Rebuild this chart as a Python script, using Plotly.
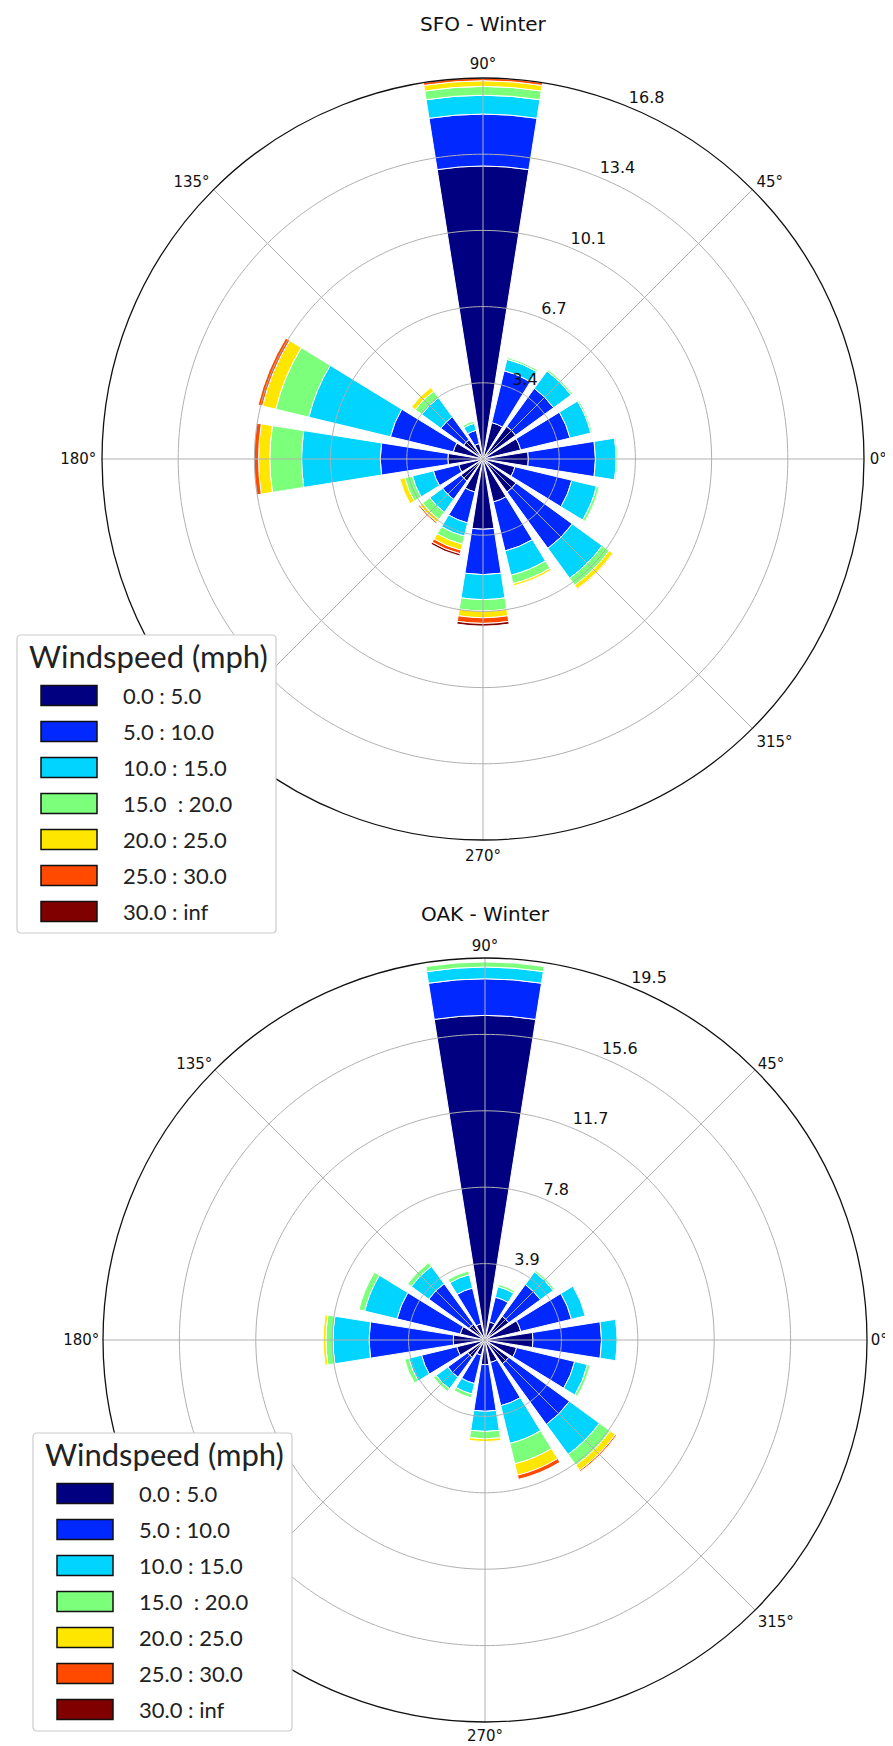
import numpy as np
import plotly.graph_objects as go

W, H = 893, 1746

directions = [0, 22.5, 45, 67.5, 90, 112.5, 135, 157.5, 180, 202.5, 225, 247.5, 270, 292.5, 315, 337.5]
speed_bins = ["0.0 : 5.0", "5.0 : 10.0", "10.0 : 15.0", "15.0\u00a0 : 20.0",
              "20.0 : 25.0", "25.0 : 30.0", "30.0 : inf"]
bin_colors = ["#000080", "#0028ff", "#00d4ff", "#7cff7a", "#ffe600", "#ff4a00", "#800000"]

# SFO - Winter: frequency (%) per direction for each speed bin
sfo_0_5 = [2.0, 1.71, 1.78, 1.65, 12.92, 0.7, 1.05, 1.35, 1.55, 1.1, 1.2, 1.5, 3.1, 1.95, 1.8, 1.45]
sfo_5_10 = [2.96, 2.24, 2.07, 2.35, 2.29, 0.6, 1.25, 2.85, 2.98, 1.15, 1.0, 1.4, 2.0, 2.22, 3.07, 2.58]
sfo_10_15 = [0.91, 0.94, 0.95, 0.52, 0.83, 0.32, 1.04, 3.7, 3.47, 0.95, 0.7, 0.6, 1.1, 1.1, 1.63, 1.12]
sfo_15_20 = [0.06, 0.07, 0.08, 0.08, 0.39, 0.1, 0.36, 1.5, 1.4, 0.35, 0.4, 0.37, 0.5, 0.38, 0.38, 0.12]
sfo_20_25 = [0, 0, 0, 0, 0.25, 0, 0.2, 0.6, 0.5, 0.22, 0.15, 0.27, 0.3, 0.1, 0.2, 0]
sfo_25_30 = [0, 0, 0, 0, 0.12, 0, 0, 0.2, 0.2, 0, 0.07, 0.16, 0.25, 0, 0.03, 0]
sfo_30_inf = [0, 0, 0, 0, 0, 0, 0, 0, 0, 0, 0, 0.1, 0.12, 0, 0, 0]

# OAK - Winter
oak_0_5 = [2.45, 1.88, 1.5, 0.95, 16.57, 0.85, 1.0, 1.3, 1.62, 1.48, 1.1, 0.8, 1.26, 1.18, 1.5, 1.66]
oak_5_10 = [3.5, 2.66, 2.0, 1.3, 1.87, 1.88, 2.55, 3.32, 4.3, 1.85, 1.25, 1.49, 2.38, 2.27, 3.83, 3.05]
oak_10_15 = [0.79, 0.72, 0.8, 0.55, 0.6, 0.7, 1.1, 1.7, 1.84, 0.67, 0.73, 0.55, 1.03, 1.98, 1.89, 0.67]
oak_15_20 = [0, 0, 0.1, 0.12, 0.26, 0.19, 0.23, 0.3, 0.36, 0.22, 0.17, 0.19, 0.38, 1.07, 0.68, 0.14]
oak_20_25 = [0, 0, 0, 0, 0, 0, 0, 0, 0.14, 0, 0, 0, 0.14, 0.6, 0.32, 0]
oak_25_30 = [0, 0, 0, 0, 0, 0, 0, 0, 0, 0, 0, 0, 0, 0.22, 0.08, 0]
oak_30_inf = [0] * 16

sfo_bins = [sfo_0_5, sfo_5_10, sfo_10_15, sfo_15_20, sfo_20_25, sfo_25_30, sfo_30_inf]
oak_bins = [oak_0_5, oak_5_10, oak_10_15, oak_15_20, oak_20_25, oak_25_30, oak_30_inf]

sfo_rmax = 16.8
oak_rmax = 19.5
sfo_ticks = ["3.4", "6.7", "10.1", "13.4", "16.8"]
oak_ticks = ["3.9", "7.8", "11.7", "15.6", "19.5"]
angle_ticks = [0, 45, 90, 135, 180, 270, 315]   # 225 hidden behind legend
radial_label_angle = 67.5

titles = ["SFO - Winter", "OAK - Winter"]

GRID = "#b0b0b0"
fig = go.Figure()


def add_rose(bins, polar_id, rmax, ticktext):
    for vals, name, col in zip(bins, speed_bins, bin_colors):
        fig.add_trace(go.Barpolar(
            r=vals, theta=directions, width=[18] * len(directions), name=name,
            marker=dict(color=col, line=dict(color="white", width=1)),
            subplot=polar_id, showlegend=False))
    # grid drawn above the bars (as in the original)
    tv = [rmax * k / 5 for k in range(1, 6)]
    circ = np.arange(0, 361, 1)
    for v in tv[:-1]:
        fig.add_trace(go.Scatterpolar(r=[v] * len(circ), theta=circ, mode="lines",
                                      line=dict(color=GRID, width=1), hoverinfo="skip",
                                      showlegend=False, subplot=polar_id))
    for a in range(0, 360, 45):
        fig.add_trace(go.Scatterpolar(r=[0, rmax], theta=[a, a], mode="lines",
                                      line=dict(color=GRID, width=1), hoverinfo="skip",
                                      showlegend=False, subplot=polar_id))
    # radial tick labels, placed like matplotlib (bottom-left at the grid point)
    fig.add_trace(go.Scatterpolar(r=tv, theta=[radial_label_angle] * len(tv), mode="text",
                                  text=ticktext, textposition="top right", cliponaxis=False,
                                  textfont=dict(family="DejaVu Sans", size=16, color="#111"),
                                  hoverinfo="skip", showlegend=False, subplot=polar_id))


add_rose(sfo_bins, "polar", sfo_rmax, sfo_ticks)
add_rose(oak_bins, "polar2", oak_rmax, oak_ticks)


def polar_layout(cx, cy, rad, rmax, tlen):
    return dict(
        domain=dict(x=[(cx - rad) / W, (cx + rad) / W],
                    y=[1 - (cy + rad) / H, 1 - (cy - rad) / H]),
        bgcolor="white",
        barmode="stack",
        radialaxis=dict(range=[0, rmax], tickvals=[rmax * k / 5 for k in range(1, 6)],
                        showticklabels=False, angle=radial_label_angle,
                        showline=False, showgrid=False, ticks=""),
        angularaxis=dict(direction="counterclockwise", rotation=0,
                         tickvals=angle_ticks, ticktext=[f"{a}°" for a in angle_ticks],
                         showgrid=False, ticks="outside", ticklen=tlen,
                         tickcolor="rgba(0,0,0,0)", showline=True,
                         linecolor="#111", linewidth=1.3,
                         tickfont=dict(family="DejaVu Sans", size=15, color="#111")),
    )


fig.update_layout(
    width=W, height=H, margin=dict(l=0, r=0, t=0, b=0),
    paper_bgcolor="white", plot_bgcolor="white", showlegend=False,
    polar=polar_layout(475, 451, 381, sfo_rmax, 2),
    polar2=polar_layout(477, 1332, 382, oak_rmax, 0),
)

annotations = []
shapes = []
title_pos = [(475, 16), (477, 906)]
for t, (tx, ty) in zip(titles, title_pos):
    annotations.append(dict(text=t, x=tx / W, y=1 - ty / H, xref="paper", yref="paper",
                            xanchor="center", yanchor="middle", showarrow=False,
                            font=dict(family="DejaVu Sans", size=20, color="#111")))


def P(x, y):
    return f"{x / W:.5f},{1 - y / H:.5f}"


def add_legend(dx, dy):
    x0, y0, x1, y1, r = 9 + dx, 627 + dy, 268 + dx, 925 + dy, 4
    path = (f"M {P(x0 + r, y0)} L {P(x1 - r, y0)} Q {P(x1, y0)} {P(x1, y0 + r)} "
            f"L {P(x1, y1 - r)} Q {P(x1, y1)} {P(x1 - r, y1)} L {P(x0 + r, y1)} "
            f"Q {P(x0, y1)} {P(x0, y1 - r)} L {P(x0, y0 + r)} Q {P(x0, y0)} {P(x0 + r, y0)} Z")
    shapes.append(dict(type="path", path=path, xref="paper", yref="paper",
                       line=dict(color="#cccccc", width=1.2), fillcolor="white", layer="above"))
    annotations.append(dict(text="Windspeed (mph)", x=(140 + dx) / W, y=1 - (648 + dy) / H,
                            xref="paper", yref="paper", xanchor="center", yanchor="middle",
                            showarrow=False, font=dict(family="Lato", size=31, color="#222")))
    for i, (lab, col) in enumerate(zip(speed_bins, bin_colors)):
        cy = 687.5 + 36 * i + dy
        shapes.append(dict(type="rect", xref="paper", yref="paper",
                           x0=(33 + dx) / W, x1=(89 + dx) / W,
                           y0=1 - (cy + 10) / H, y1=1 - (cy - 10) / H,
                           fillcolor=col, line=dict(color="#111", width=1.5), layer="above"))
        annotations.append(dict(text=lab, x=(113 + dx) / W, y=1 - cy / H, xref="paper", yref="paper",
                                xanchor="left", yanchor="middle", showarrow=False,
                                font=dict(family="Lato", size=22, color="#222")))


add_legend(0, 0)
add_legend(16, 798)

fig.update_layout(annotations=annotations, shapes=shapes)
fig.write_html("out.html")
